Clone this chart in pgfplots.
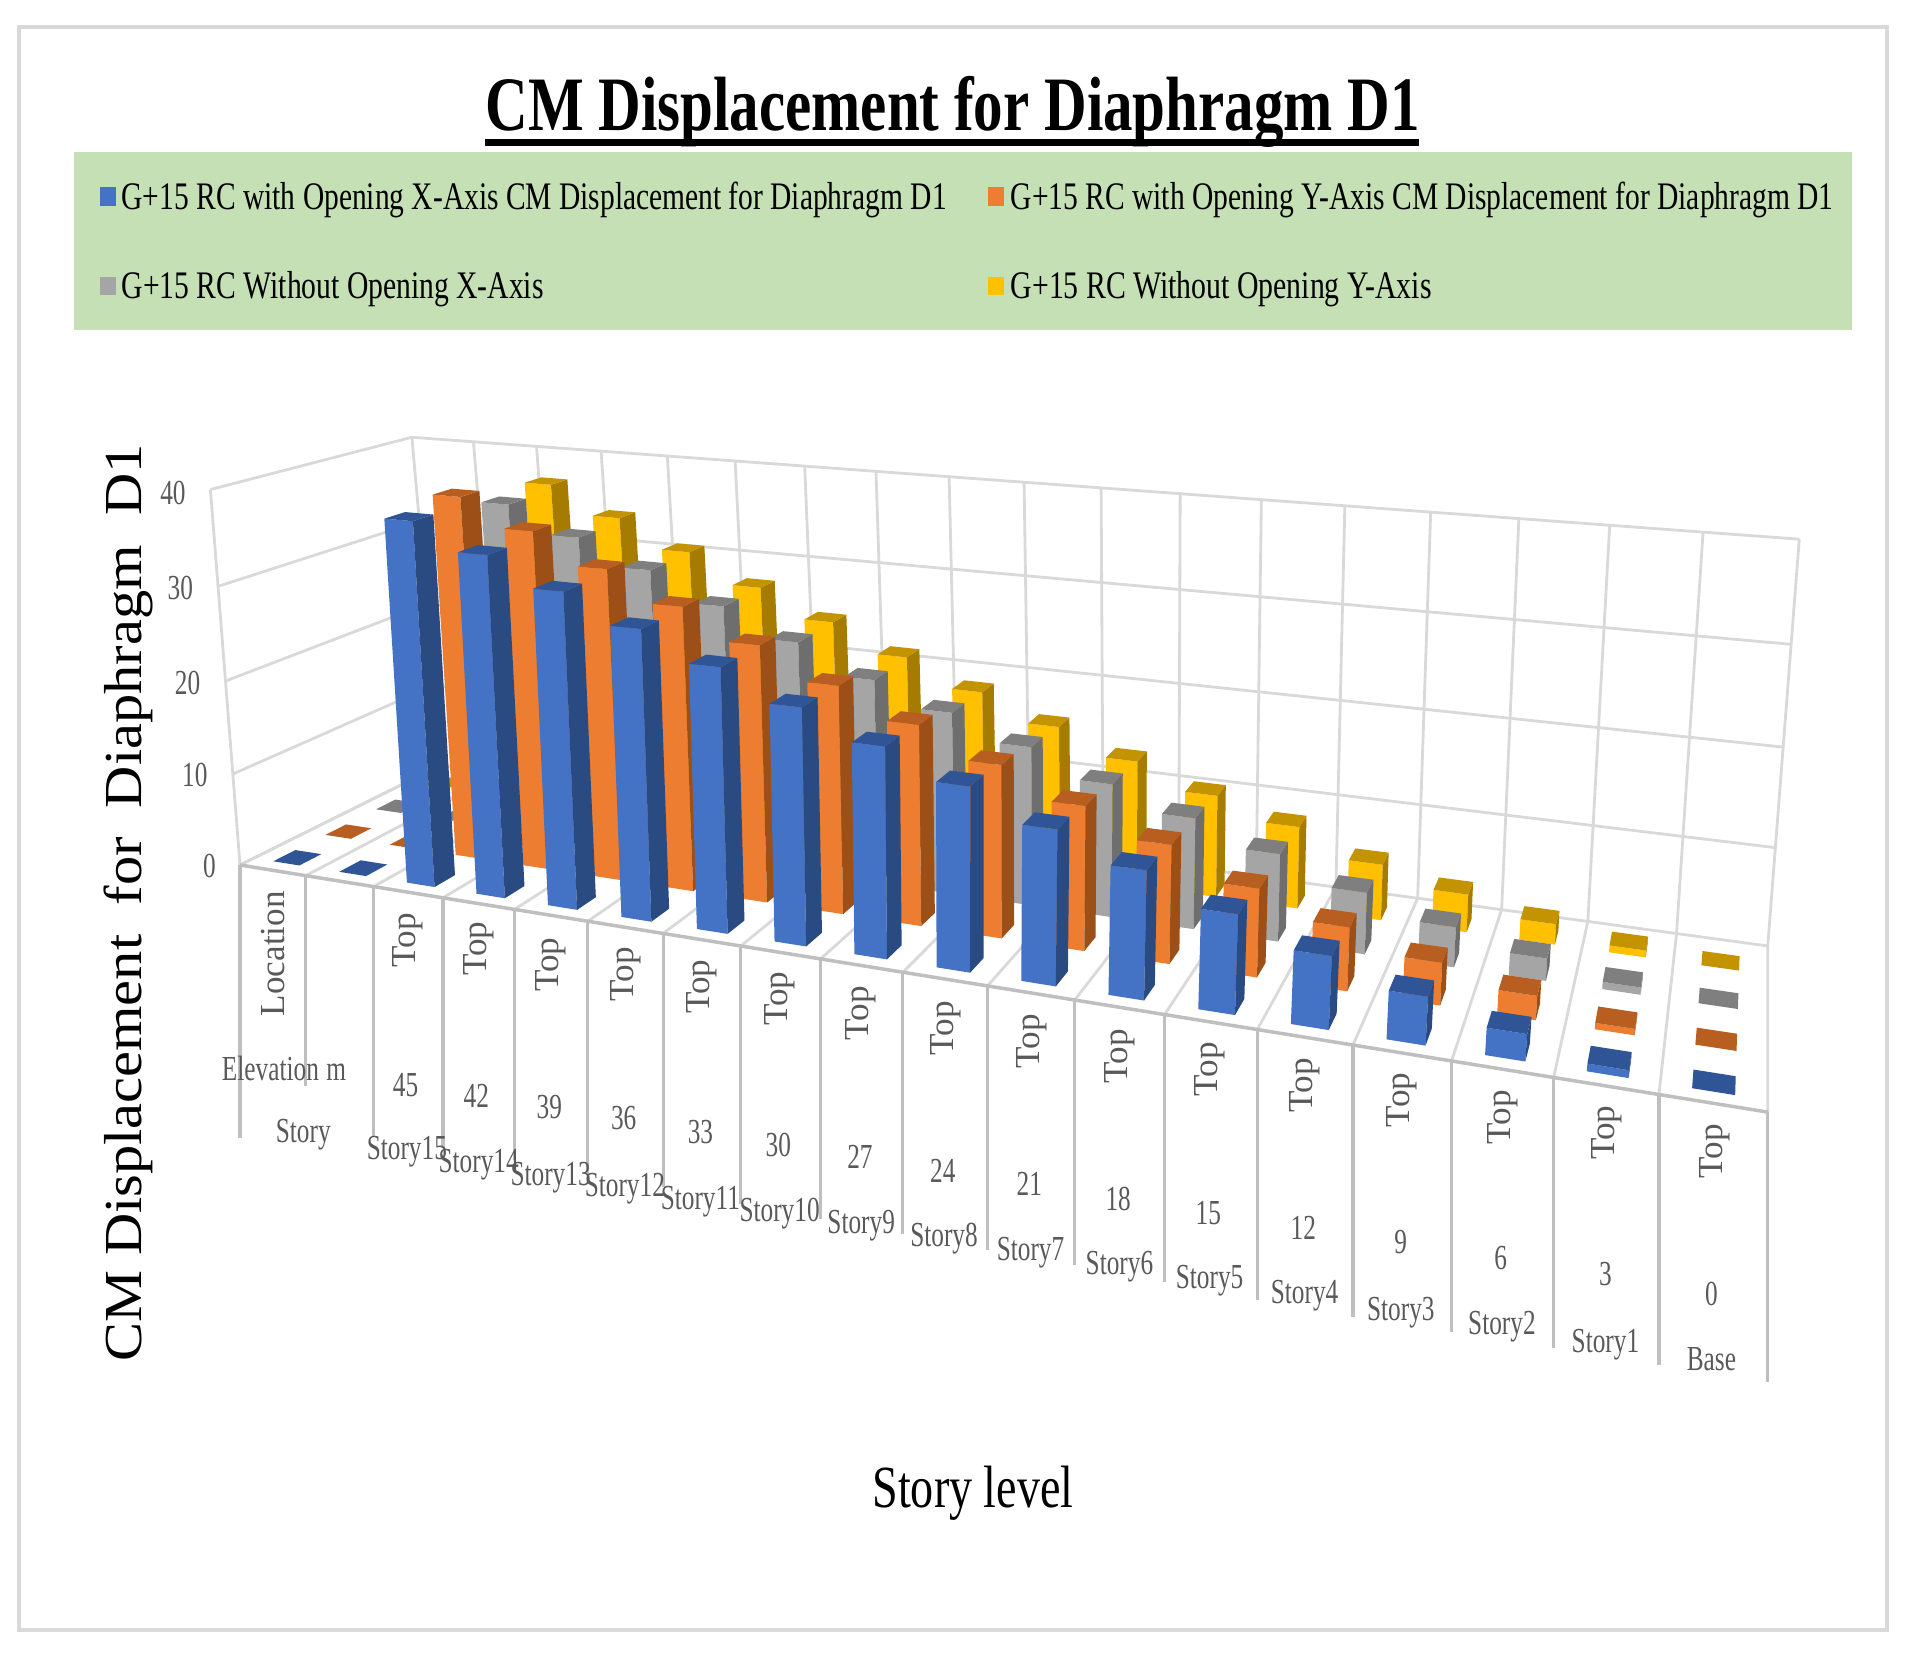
\documentclass[border=0pt]{standalone}
\usepackage{fontspec}
\setmainfont{Liberation Serif}
\usepackage{graphicx}
\usepackage{pgfplots}
\usepackage{pgfplotstable}
\pgfplotsset{compat=1.18}

\definecolor{blueF}{HTML}{4472C4}\definecolor{blueR}{HTML}{2A4A82}\definecolor{blueT}{HTML}{2F5597}
\definecolor{oranF}{HTML}{ED7D31}\definecolor{oranR}{HTML}{9C5018}\definecolor{oranT}{HTML}{B85E20}
\definecolor{grayF}{HTML}{A5A5A5}\definecolor{grayR}{HTML}{6E6E6E}\definecolor{grayT}{HTML}{7F7F7F}
\definecolor{yellF}{HTML}{FFC000}\definecolor{yellR}{HTML}{A67C00}\definecolor{yellT}{HTML}{C49300}
\definecolor{wallc}{HTML}{D9D9D9}
\definecolor{axisc}{HTML}{BFBFBF}
\definecolor{txt}{HTML}{595959}
\definecolor{legbg}{HTML}{C5E0B4}

% u = category position
\pgfplotstableread{
u  blue orange gray yellow
0  0    0      0    0
1  0    0      0    0
2  38.1 39.0   36.6 37.2
3  35.4 36.1   33.7 34.1
4  32.5 32.9   30.9 31.0
5  29.6 29.8   27.8 27.8
6  26.7 26.7   24.8 24.8
7  23.7 23.5   21.7 21.8
8  20.9 20.5   19.2 18.9
9  18.1 17.5   16.6 16.1
10 15.1 14.5   13.8 13.4
11 12.4 11.8   11.4 10.8
12 9.5  8.7    8.9  8.6
13 6.9  6.2    6.2  5.8
14 4.5  4.1    4.0  3.9
15 2.5  2.3    2.2  2.1
16 0.7  0.6    0.7  0.7
17 0    0      0    0
}\bardata

% perspective of the 3D chart: category u (0-18), depth d (0-1), value z (0-40) to pixels
\newcommand\proj[3]{%
  \pgfmathsetmacro\ps{#1/18}%
  \pgfmathsetmacro\pz{#3/40}%
  \pgfmathsetmacro\pw{1-0.2335*\ps+0.1515*#2-0.04*\pz}%
  \pgfmathsetmacro\PX{(240+1115*\ps+267.8*#2-(38+12*#2-7*\ps*#2)*\pz)/\pw}%
  \pgfmathsetmacro\PY{(865-12.6*\ps+16*#2-395*\pz)/\pw}}
\newcommand\addpt[3]{\proj{#1}{#2}{#3}\edef\clist{\clist (\PX,\PY)}}
\newcommand\flushface[1]{%
  \edef\temp{\noexpand\addplot[fill=#1,draw=none,forget plot] coordinates {\clist} --cycle;}\temp}
\newcommand\gline[8]{%
  \def\clist{}\addpt{#1}{#2}{#3}\addpt{#4}{#5}{#6}%
  \edef\temp{\noexpand\addplot[#7,line width=#8,forget plot] coordinates {\clist};}\temp}

% one bar: u, first depth, value, face colours
\newcommand\onebar[6]{%
  \pgfmathsetmacro\ua{#1+0.3}\pgfmathsetmacro\ub{#1+0.7}\pgfmathsetmacro\db{#2+0.1}%
  \ifdim#3pt>0pt
    \def\clist{}\addpt{\ua}{#2}{0}\addpt{\ub}{#2}{0}\addpt{\ub}{#2}{#3}\addpt{\ua}{#2}{#3}\flushface{#4}%
    \def\clist{}\addpt{\ub}{#2}{0}\addpt{\ub}{\db}{0}\addpt{\ub}{\db}{#3}\addpt{\ub}{#2}{#3}\flushface{#5}%
  \fi
  \def\clist{}\addpt{\ua}{#2}{#3}\addpt{\ub}{#2}{#3}\addpt{\ub}{\db}{#3}\addpt{\ua}{\db}{#3}\flushface{#6}}

% labels are placed in the coordinates of the 1568 wide view
\newcommand\lab[3]{\node[txt,inner sep=0pt,anchor=center] at (axis cs:{#1*1.2181},{#2*1.2181}) {\scalebox{.72}[1]{#3}};}
\newcommand\slab[3]{\node[txt,inner sep=0pt,anchor=center] at (axis cs:{#1*1.2181},{(#2+1.5)*1.2181}) {\scalebox{.72}[1]{#3}};}
\newcommand\rlab[3]{\node[txt,inner sep=0pt,anchor=center,rotate=90] at (axis cs:{#1*1.2181},{#2*1.2181}) {#3};}
\newcommand\legtext[4]{\node[black,inner sep=0pt,anchor=base west,font=\fontsize{11.1}{13}\selectfont] at (axis cs:#1,#2) {\resizebox{#3cm}{\height}{#4}};}

\begin{document}
\begin{tikzpicture}
\path[use as bounding box] (0,0) rectangle (19.1,16.53);
\begin{axis}[
  at={(0,0)}, anchor=south west,
  scale only axis, width=19.1cm, height=16.53cm,
  xmin=0, xmax=1910, ymin=0, ymax=1653, y dir=reverse,
  hide axis, clip=false,
  font=\fontsize{10}{12}\selectfont,
]
% walls and floor
\foreach \u in {0,...,18}{\gline{\u}{1}{0}{\u}{1}{40}{wallc}{0.8pt}}
\foreach \z in {0,10,20,30,40}{
  \gline{0}{1}{\z}{18}{1}{\z}{wallc}{0.8pt}
  \gline{0}{0}{\z}{0}{1}{\z}{wallc}{0.8pt}
}
\gline{0}{0}{0}{0}{0}{40}{wallc}{0.8pt}
\foreach \u in {0,...,18}{\gline{\u}{0}{0}{\u}{1}{0}{wallc}{0.8pt}}
\gline{0}{0}{0}{18}{0}{0}{axisc}{1pt}

% category separators under the floor
\foreach \u/\b in {0/1138,1/1086,2/1137,3/1148,4/1160,5/1174,6/1187,7/1204,8/1219,9/1234,10/1250,11/1265,12/1282,13/1300,14/1317,15/1332,16/1348,17/1365,18/1382}{
  \proj{\u}{0}{0}
  \edef\temp{\noexpand\addplot[axisc,line width=0.9pt,forget plot] coordinates {(\PX,\PY) (\PX,\b)};}\temp
}

% bars, back series first
\foreach \col/\ds/\cf/\cr/\ct in {yellow/0.80/yellF/yellR/yellT,gray/0.55/grayF/grayR/grayT,orange/0.30/oranF/oranR/oranT,blue/0.06/blueF/blueR/blueT}{
  \foreach \rw in {0,...,17}{
    \pgfplotstablegetelem{\rw}{\col}\of\bardata
    \let\val\pgfplotsretval
    \onebar{\rw}{\ds}{\val}{\cf}{\cr}{\ct}
  }
}

% frame, legend box, title
\draw[wallc,line width=1.1pt] (axis cs:19,27) rectangle (axis cs:1887,1630);
\fill[legbg] (axis cs:74,152) rectangle (axis cs:1852,330);
\fill[blueF] (axis cs:100,187) rectangle (axis cs:116,206);
\fill[oranF] (axis cs:988,187) rectangle (axis cs:1004,206);
\fill[grayF] (axis cs:100,277) rectangle (axis cs:116,295);
\fill[yellF] (axis cs:988,277) rectangle (axis cs:1004,295);
\legtext{121}{209}{8.25}{G+15 RC with Opening X-Axis CM Displacement for Diaphragm D1}
\legtext{1010}{209}{8.23}{G+15 RC with Opening Y-Axis CM Displacement for Diaphragm D1}
\legtext{121}{298}{4.22}{G+15 RC Without Opening X-Axis}
\legtext{1010}{298}{4.21}{G+15 RC Without Opening Y-Axis}

\node[black,inner sep=0pt,anchor=base west,font=\fontsize{21.9}{26}\selectfont\bfseries] at (axis cs:485,130) {\resizebox{9.34cm}{\height}{CM Displacement for Diaphragm D1}};
\fill[black] (axis cs:485,139) rectangle (axis cs:1419,146);

% axis titles
\node[black,inner sep=0pt,anchor=base,rotate=90,font=\fontsize{15.2}{18}\selectfont] at (axis cs:142,903) {\resizebox{9.17cm}{\height}{CM Displacement\ \ for\ \ Diaphragm\ \ D1}};
\node[black,inner sep=0pt,anchor=base,font=\fontsize{17}{20}\selectfont] at (axis cs:973,1507) {\resizebox{2.01cm}{\height}{Story level}};

% value axis
\lab{142}{405}{40}\lab{148}{483}{30}\lab{154}{561}{20}\lab{160}{636}{10}\lab{172}{711}{0}

% category rows
\rlab{224}{783}{Location}
\rlab{335}{772}{Top}\rlab{393}{779}{Top}\rlab{452}{792}{Top}\rlab{514}{800}{Top}
\rlab{576}{810}{Top}\rlab{640}{820}{Top}\rlab{707}{832}{Top}\rlab{776}{844}{Top}
\rlab{847}{855}{Top}\rlab{919}{867}{Top}\rlab{993}{878}{Top}\rlab{1071}{891}{Top}
\rlab{1151}{903}{Top}\rlab{1234}{917}{Top}\rlab{1319}{930}{Top}\rlab{1408}{945}{Top}

\lab{222}{877}{Elevation}\lab{276}{880}{m}
\lab{333}{891}{45}\lab{391}{900}{42}\lab{451}{909}{39}\lab{512}{918}{36}
\lab{575}{929}{33}\lab{639}{940}{30}\lab{706}{950}{27}\lab{774}{961}{24}
\lab{845}{972}{21}\lab{918}{984}{18}\lab{992}{996}{15}\lab{1070}{1008}{12}
\lab{1150}{1020}{9}\lab{1232}{1033}{6}\lab{1318}{1046}{3}\lab{1405}{1062}{0}

\slab{249}{930}{Story}
\slab{334}{944}{Story15}\slab{393}{955}{Story14}\slab{452}{965}{Story13}\slab{513}{974}{Story12}
\slab{575}{985}{Story11}\slab{640}{995}{Story10}\slab{707}{1005}{Story9}\slab{775}{1015}{Story8}
\slab{846}{1027}{Story7}\slab{919}{1038}{Story6}\slab{993}{1050}{Story5}\slab{1071}{1062}{Story4}
\slab{1150}{1076}{Story3}\slab{1233}{1088}{Story2}\slab{1318}{1102}{Story1}\lab{1405}{1116}{Base}
\end{axis}
\end{tikzpicture}
\end{document}
